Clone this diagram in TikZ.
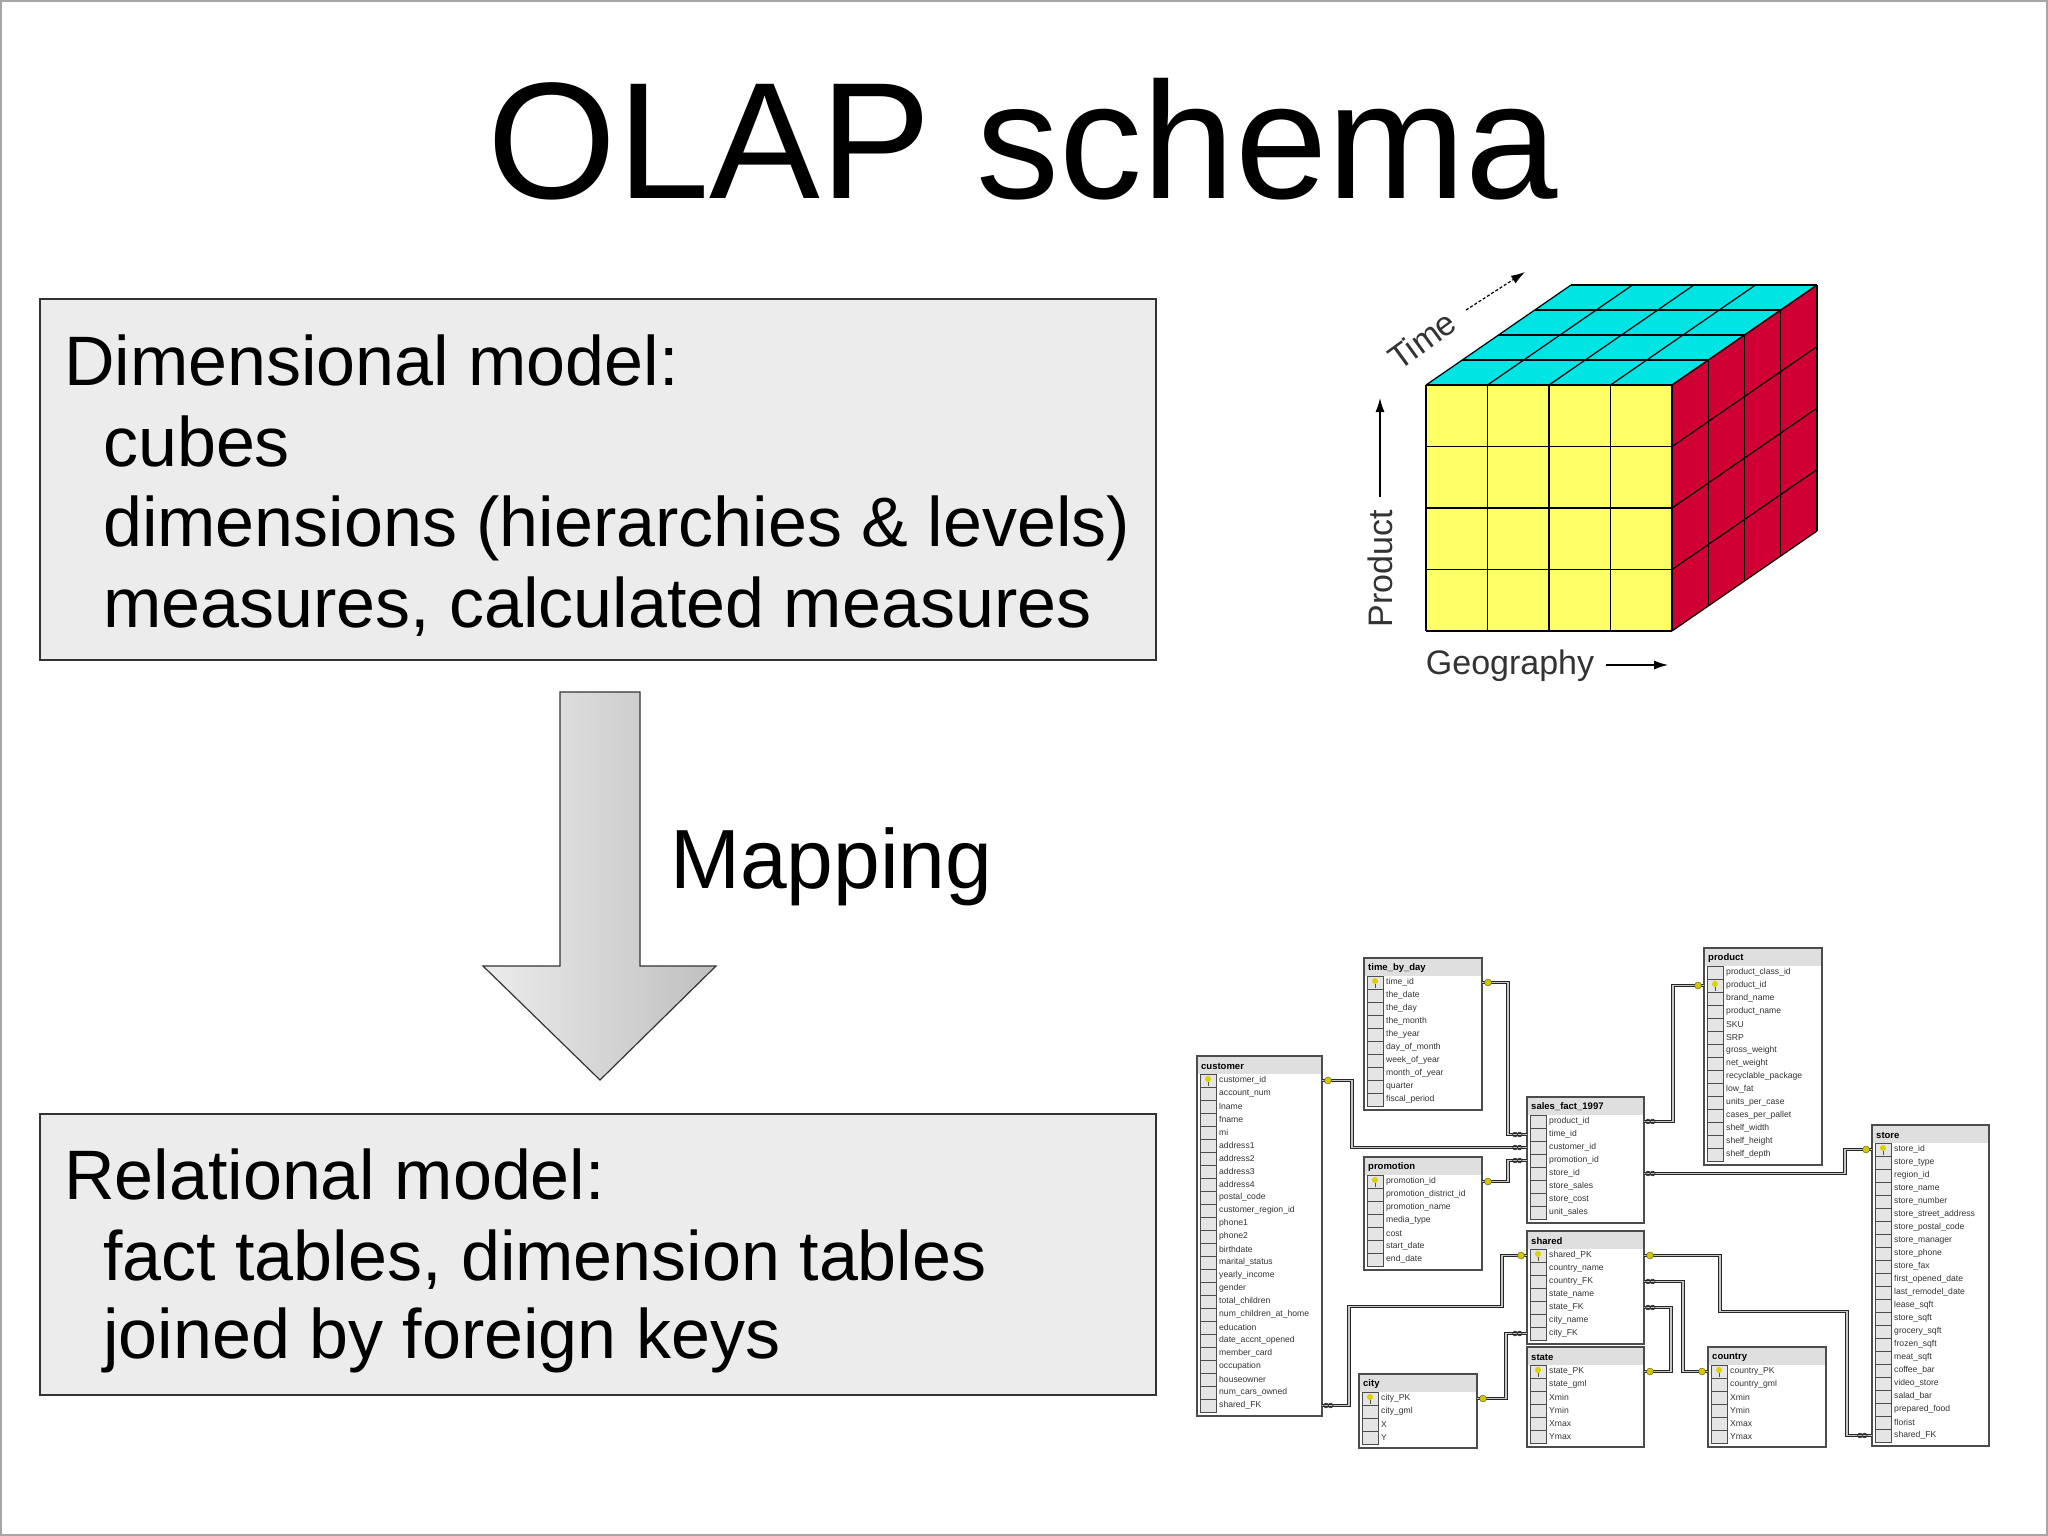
\documentclass[tikz,border=0pt]{standalone}
\usepackage{fontspec}
\setmainfont{Liberation Sans}
\usetikzlibrary{calc,arrows.meta}
\definecolor{cubetop}{RGB}{0,228,228}
\definecolor{cubeside}{RGB}{208,0,52}
\definecolor{cubefront}{RGB}{255,255,102}
\tikzset{
  big/.style={font=\fontsize{70}{80}\selectfont, anchor=base west, inner sep=0},
  box/.style={draw=black!80, line width=1.5, fill=gray!15},
  axl/.style={font=\fontsize{34}{36}\selectfont, text=black!80, inner sep=0},
  rowtxt/.style={font=\fontsize{8.6}{9}\selectfont, anchor=west, inner sep=0, text=black!80},
  tbltitle/.style={font=\bfseries\fontsize{9.5}{10}\selectfont, anchor=west, inner sep=0},
  conn/.style={draw=gray!30!black, line width=0.9, double=gray!45, double distance=1.5},
  keym/.style={fill=yellow!60!olive, draw=olive!60!black, line width=0.4},
  infm/.style={draw=black!80, line width=0.8},
}
% name, x, ytop, width, nrows, title, rows, pk
\newcommand\dbtable[8]{%
  \pgfmathsetmacro\tbh{18+13*#5+4}%
  \draw[gray!60!black, line width=1.2, fill=white] (#2,#3) rectangle ++(#4,\tbh);
  \fill[gray!25] (#2+1,#3+1) rectangle ++(#4-2,17);
  \node[tbltitle] (#1) at (#2+4,#3+10) {#6};
  \foreach \r [count=\i from 0] in {#7} {
    \draw[gray!60!black, line width=0.5, fill=gray!20] (#2+3,#3+18+13*\i) rectangle ++(16,13);
    \node[rowtxt] at (#2+22,#3+18+13*\i+6.5) {\r};
    \coordinate (#1-l\i) at (#2,#3+24.5+13*\i);
    \coordinate (#1-r\i) at (#2+#4,#3+24.5+13*\i);
  }
  \foreach \k in {#8} {
    \fill[yellow!70!olive] (#2+11,#3+18+13*\k+5) circle (3);
    \draw[olive!50!black, line width=0.8] (#2+11,#3+18+13*\k+8) -- ++(0,3.5);
  }
}
\newcommand\keyat[2]{\fill[keym] ($(#1)+(#2,0)$) circle (3.5);}
\newcommand\infat[2]{\draw[infm] ($(#1)+(#2,0)$) circle (2.3) ($(#1)+(#2,0)+(4.6,0)$) circle (2.3);}
\begin{document}
\begin{tikzpicture}[x=1pt,y=-1pt]
\useasboundingbox (0,0) rectangle (2048,1536);
\fill[white] (0,0) rectangle (2048,1536);
\draw[gray!70, line width=2] (1,1) rectangle (2047,1535);
% title
\node[font=\fontsize{166}{180}\selectfont, anchor=base, inner sep=0] (title) at (1023,198) {OLAP schema};
% box 1
\draw[box] (40,299) rectangle (1156,660);
\node[big] (d1) at (64,385) {Dimensional model:};
\node[big] (d2) at (103,466) {cubes};
\node[big] (d3) at (103,546) {dimensions (hierarchies \& levels)};
\node[big] (d4) at (103,627) {measures, calculated measures};
% arrow
\shade[left color=gray!15, right color=gray!50, draw=black!80, line width=1.2]
  (560,692) -- (640,692) -- (640,966) -- (716,966) -- (600,1080) -- (483,966) -- (560,966) -- cycle;
\node[big, font=\fontsize{84}{90}\selectfont] (map) at (670,888) {Mapping};
% box 2
\draw[box] (40,1114) rectangle (1156,1395);
\node[big] (r1) at (64,1199) {Relational model:};
\node[big] (r2) at (103,1280) {fact tables, dimension tables};
\node[big] (r3) at (103,1358) {joined by foreign keys};
% cube
\def\cs{61.5}
\def\dx{36.25}\def\dy{-25}
\fill[cubefront] (1426,385) rectangle (1672,631);
\fill[cubeside] (1672,385) -- ++(4*\dx,4*\dy) -- ++(0,246) -- (1672,631) -- cycle;
\fill[cubetop] (1426,385) -- ++(4*\dx,4*\dy) -- ++(246,0) -- (1672,385) -- cycle;
\foreach \i in {0,...,4} {
  \draw[line width=1.5] (1426+\i*\cs,385) -- ++(0,246);
  \draw[line width=1.5] (1426,385+\i*\cs) -- ++(246,0);
  \draw[line width=1.2] (1426+\i*\cs,385) -- ++(4*\dx,4*\dy);
  \draw[line width=1.2] (1426+\i*\dx,385+\i*\dy) -- ++(246,0);
  \draw[line width=1.2] (1672+\i*\dx,385+\i*\dy) -- ++(0,246);
  \draw[line width=1.2] (1672,385+\i*\cs) -- ++(4*\dx,4*\dy);
}
\node[axl, rotate=36] (tl) at (1422,340) {Time};
\coordinate (ta) at (1466,310);
\coordinate (tb) at (1525,272);
\draw[densely dashed, line width=1.2, -{Latex[length=14,width=9]}] (ta) -- (tb);
\node[axl, rotate=90] (pl) at (1380,569) {Product};
\coordinate (pa) at (1380,497);
\coordinate (pb) at (1380,398);
\draw[line width=1.3, -{Latex[length=14,width=9]}] (pa) -- (pb);
\node[axl] (gl) at (1510,666) {Geography};
\coordinate (ga) at (1606,665);
\coordinate (gb) at (1668,665);
\draw[line width=1.3, -{Latex[length=14,width=9]}] (ga) -- (gb);
% tables
\dbtable{tbd}{1364}{958}{118}{10}{time\_by\_day}{time\_id,the\_date,the\_day,the\_month,the\_year,day\_of\_month,week\_of\_year,month\_of\_year,quarter,fiscal\_period}{0}
\dbtable{cus}{1197}{1056}{125}{26}{customer}{customer\_id,account\_num,lname,fname,mi,address1,address2,address3,address4,postal\_code,customer\_region\_id,phone1,phone2,birthdate,marital\_status,yearly\_income,gender,total\_children,num\_children\_at\_home,education,date\_accnt\_opened,member\_card,occupation,houseowner,num\_cars\_owned,shared\_FK}{0}
\dbtable{pro}{1364}{1157}{118}{7}{promotion}{promotion\_id,promotion\_district\_id,promotion\_name,media\_type,cost,start\_date,end\_date}{0}
\dbtable{cit}{1359}{1374}{118}{4}{city}{city\_PK,city\_gml,X,Y}{0}
\dbtable{sf}{1527}{1097}{117}{8}{sales\_fact\_1997}{product\_id,time\_id,customer\_id,promotion\_id,store\_id,store\_sales,store\_cost,unit\_sales}{}
\dbtable{sh}{1527}{1231}{117}{7}{shared}{shared\_PK,country\_name,country\_FK,state\_name,state\_FK,city\_name,city\_FK}{0}
\dbtable{sta}{1527}{1347}{117}{6}{state}{state\_PK,state\_gml,Xmin,Ymin,Xmax,Ymax}{0}
\dbtable{prd}{1704}{948}{118}{15}{product}{product\_class\_id,product\_id,brand\_name,product\_name,SKU,SRP,gross\_weight,net\_weight,recyclable\_package,low\_fat,units\_per\_case,cases\_per\_pallet,shelf\_width,shelf\_height,shelf\_depth}{1}
\dbtable{cty}{1708}{1347}{118}{6}{country}{country\_PK,country\_gml,Xmin,Ymin,Xmax,Ymax}{0}
\dbtable{st}{1872}{1125}{117}{23}{store}{store\_id,store\_type,region\_id,store\_name,store\_number,store\_street\_address,store\_postal\_code,store\_manager,store\_phone,store\_fax,first\_opened\_date,last\_remodel\_date,lease\_sqft,store\_sqft,grocery\_sqft,frozen\_sqft,meat\_sqft,coffee\_bar,video\_store,salad\_bar,prepared\_food,florist,shared\_FK}{0}
% connectors
\draw[conn] (tbd-r0) -- ++(26,0) |- (sf-l1);
\draw[conn] (cus-r0) -- ++(30,0) |- (sf-l2);
\draw[conn] (pro-r0) -- ++(26,0) |- (sf-l3);
\draw[conn] (cus-r25) -- ++(27,0) -- ++(0,-99) -| ($(sh-l0)+(-25,0)$) -- (sh-l0);
\draw[conn] (cit-r0) -- ++(29,0) |- (sh-l6);
\draw[conn] (sf-r0) -- ++(29,0) |- (prd-l1);
\draw[conn] (sf-r4) -- ++(201,0) |- (st-l0);
\draw[conn] (sh-r0) -- ++(76,0) -- ++(0,56) -| ($(st-l22)+(-25,0)$) -- (st-l22);
\draw[conn] (sh-r2) -- ++(39,0) |- (cty-l0);
\draw[conn] (sh-r4) -- ++(27,0) |- (sta-r0);
% end markers
\keyat{tbd-r0}{6} \infat{sf-l1}{-12}
\keyat{cus-r0}{6} \infat{sf-l2}{-12}
\keyat{pro-r0}{6} \infat{sf-l3}{-12}
\keyat{sh-l0}{-6} \infat{cus-r25}{4}
\keyat{cit-r0}{6} \infat{sh-l6}{-12}
\keyat{prd-l1}{-6} \infat{sf-r0}{4}
\keyat{st-l0}{-6} \infat{sf-r4}{4}
\keyat{sh-r0}{6} \infat{st-l22}{-12}
\keyat{cty-l0}{-6} \infat{sh-r2}{4}
\keyat{sta-r0}{6} \infat{sh-r4}{4}
\end{tikzpicture}
\end{document}
